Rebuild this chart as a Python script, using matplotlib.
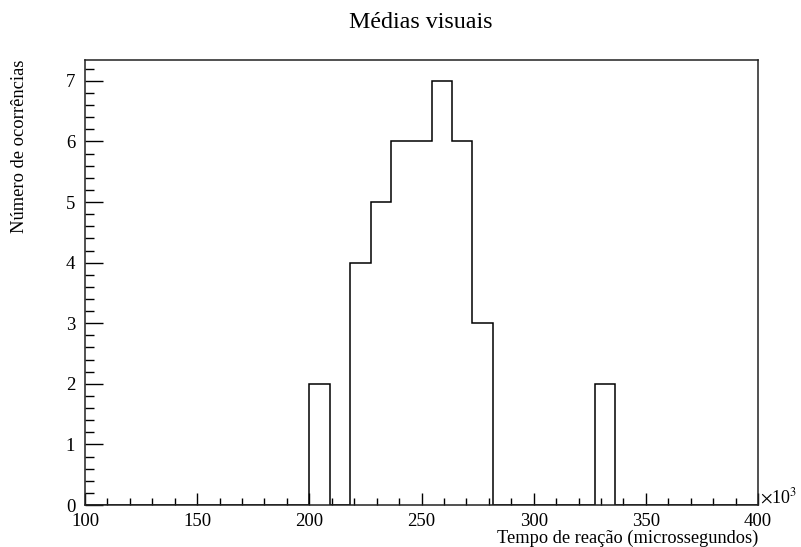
import numpy as np
import matplotlib
matplotlib.use("Agg")
import matplotlib.pyplot as plt
from matplotlib.ticker import MultipleLocator

plt.rcParams['font.family'] = ['Liberation Serif', 'DejaVu Serif']
plt.rcParams['mathtext.fontset'] = 'stix'

title = "Médias visuais"
xlabel = "Tempo de reação (microssegundos)"
ylabel = "Número de ocorrências"
x_min, x_max, n_bins = 100, 400, 33   # units of 10^3 microseconds
counts = [0, 0, 0, 0, 0, 0, 0, 0, 0, 0, 0,
          2, 0, 4, 5, 6, 6, 7, 6, 3, 0, 0,
          0, 0, 0, 2, 0, 0, 0, 0, 0, 0, 0]
edges = np.linspace(x_min, x_max, n_bins + 1)

fig = plt.figure(figsize=(8.01, 5.47), dpi=100)
ax = fig.add_axes([85/801, 42/547, (758-85)/801, (505-59.7)/547])

ax.stairs(counts, edges, color='black', linewidth=1.1, baseline=0)
ax.set_xlim(x_min, x_max)
ax.set_ylim(0, max(counts) * 1.05)

ax.xaxis.set_major_locator(MultipleLocator(50))
ax.xaxis.set_minor_locator(MultipleLocator(10))
ax.yaxis.set_major_locator(MultipleLocator(1))
ax.yaxis.set_minor_locator(MultipleLocator(0.2))
ax.tick_params(axis='both', which='both', direction='in', top=False, right=False,
               labelsize=13.5, width=1.0, color='black')
ax.tick_params(axis='x', which='major', length=9, pad=5.5)
ax.tick_params(axis='x', which='minor', length=5)
ax.tick_params(axis='y', which='major', length=13, pad=7)
ax.tick_params(axis='y', which='minor', length=6.5)
for s in ax.spines.values():
    s.set_linewidth(1.1)
    s.set_color('#222222')

fig.text(421/801, 1 - 22/547, title, ha='center', va='center', fontsize=17.3)
fig.text(758/801, 1 - 538/547, xlabel, ha='right', va='center', fontsize=13.2)
fig.text(20/801, 1 - 60/547, ylabel, ha='center', va='top', rotation=90, fontsize=13.3)
fig.text(760/801, 1 - 497/547, r'$\times$10$^{3}$', ha='left', va='center', fontsize=13)

fig.savefig("out.png", dpi=100)
